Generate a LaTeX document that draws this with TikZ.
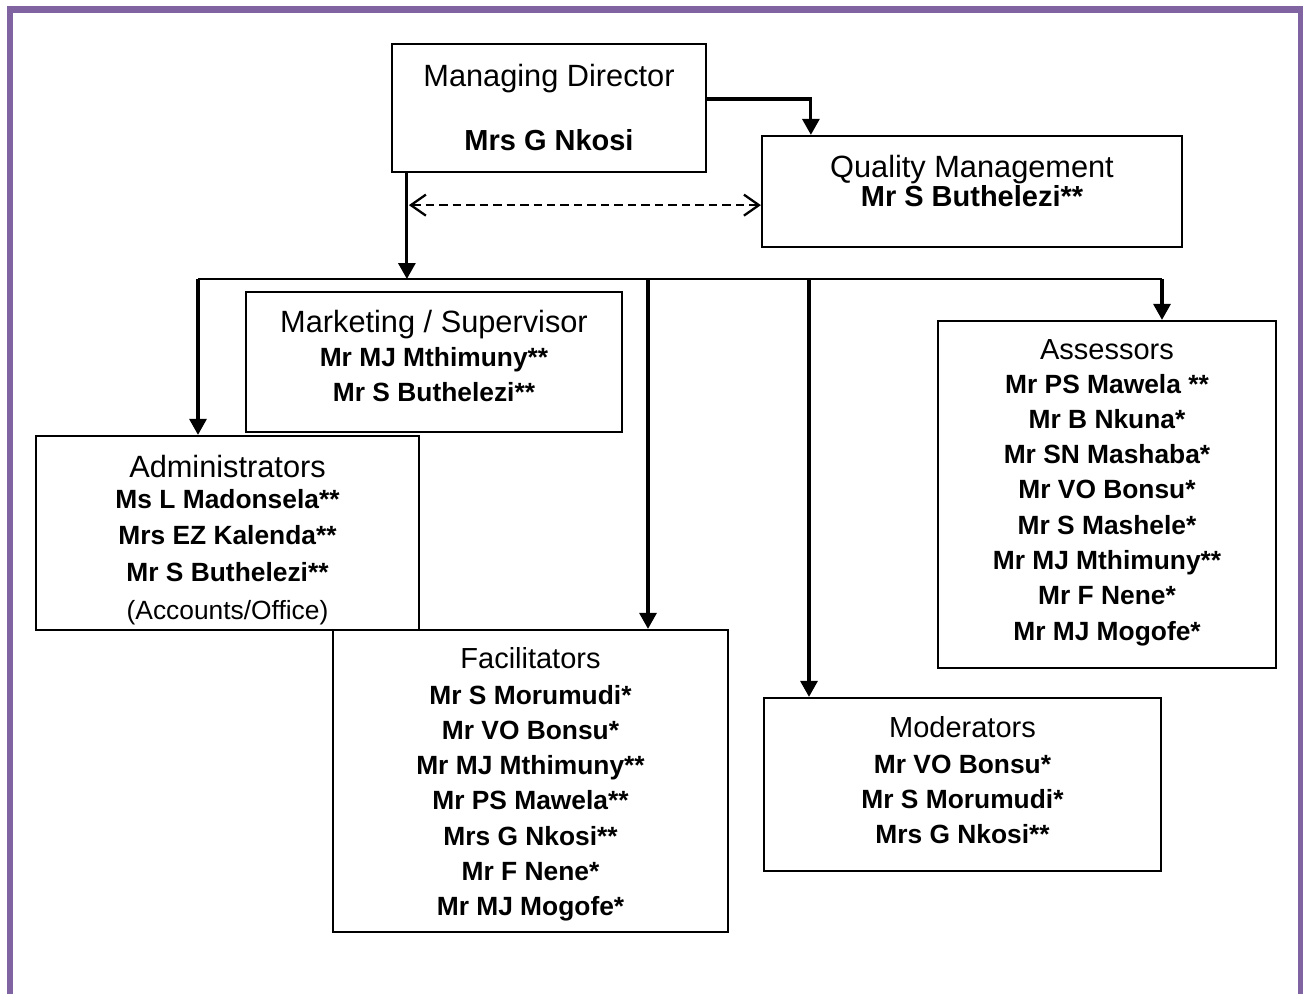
\documentclass[tikz,border=0pt]{standalone}
\usepackage{fontspec}
\setmainfont{Liberation Sans}
\usepackage{tikz}
\usetikzlibrary{arrows.meta,calc,positioning}
\definecolor{frameViolet}{RGB}{128,100,162}
\newcommand{\rowgap}{35.3}
\tikzset{
  >={Triangle[length=0.32cm,width=0.34cm]},
  box/.style={draw,line width=1.3pt,shape=rectangle,inner sep=0},
  head/.style={anchor=base,font=\fontsize{17.5}{21}\selectfont},
  subhead/.style={anchor=base,font=\fontsize{16.5}{20}\selectfont},
  who/.style={anchor=base,font=\fontsize{15}{18}\selectfont\bfseries},
  bigwho/.style={anchor=base,font=\fontsize{16.5}{19}\selectfont\bfseries},
  note/.style={anchor=base,font=\fontsize{15}{18}\selectfont},
  line/.style={draw,->,line width=1.8pt},
  bus/.style={draw,line width=1.4pt},
  link/.style={draw,dash pattern=on 0.17cm off 0.1cm,line width=1.3pt,
    {Straight Barb[length=0.3cm,width=0.42cm]}-{Straight Barb[length=0.3cm,width=0.42cm]}},
}
\begin{document}
\begin{tikzpicture}[x=0.02cm,y=-0.02cm]
  \useasboundingbox (0,0) rectangle (1303,994);
  \draw[frameViolet,line width=0.14cm] (10,994) -- (10,9) -- (1301,9) -- (1301,994);

  % boxes
  \node (md) [box,minimum width=6.28cm,minimum height=2.56cm] at (549,108) {};
  \node (qm) [box,minimum width=8.40cm,minimum height=2.22cm] at (972,191.5) {};
  \node (mkt) [box,minimum width=7.52cm,minimum height=2.80cm] at (434,362) {};
  \node (adm) [box,minimum width=7.66cm,minimum height=3.88cm] at (227.5,533) {};
  \node (fac) [box,minimum width=7.90cm,minimum height=6.04cm] at (530.5,781) {};
  \node (mod) [box,minimum width=7.94cm,minimum height=3.46cm] at (962.5,784.5) {};
  \node (ass) [box,minimum width=6.76cm,minimum height=6.94cm] at (1107,494.5) {};

  % texts
  \node (mdHead) [head] at (549,86) {Managing Director};
  \node (mdWho) [bigwho] at (549,150) {Mrs G Nkosi};
  \node (qmHead) [head] at (972,177) {Quality Management};
  \node (qmWho) [bigwho] at (972,206) {Mr S Buthelezi**};
  \node (mktHead) [head] at (434,332) {Marketing / Supervisor};
  \foreach \nm [count=\i] in {Mr MJ Mthimuny**,Mr S Buthelezi**}
    \node (mkt\i) [who] at (434,{366+\rowgap*(\i-1)}) {\nm};
  \node (admHead) [head] at (227.5,477) {Administrators};
  \foreach \nm [count=\i] in {Ms L Madonsela**,Mrs EZ Kalenda**,Mr S Buthelezi**}
    \node (adm\i) [who] at (227.5,{508+36.5*(\i-1)}) {\nm};
  \node (admNote) [note] at (227.5,619) {(Accounts/Office)};
  \node (facHead) [subhead] at (530.5,668) {Facilitators};
  \foreach \nm [count=\i] in {Mr S Morumudi*,Mr VO Bonsu*,Mr MJ Mthimuny**,Mr PS Mawela**,Mrs G Nkosi**,Mr F Nene*,Mr MJ Mogofe*}
    \node (fac\i) [who] at (530.5,{704+\rowgap*(\i-1)}) {\nm};
  \node (modHead) [subhead] at (962.5,737) {Moderators};
  \foreach \nm [count=\i] in {Mr VO Bonsu*,Mr S Morumudi*,Mrs G Nkosi**}
    \node (mod\i) [who] at (962.5,{773+\rowgap*(\i-1)}) {\nm};
  \node (assHead) [subhead] at (1107,359) {Assessors};
  \foreach \nm [count=\i] in {Mr PS Mawela **,Mr B Nkuna*,Mr SN Mashaba*,Mr VO Bonsu*,Mr S Mashele*,Mr MJ Mthimuny**,Mr F Nene*,Mr MJ Mogofe*}
    \node (ass\i) [who] at (1107,{393+\rowgap*(\i-1)}) {\nm};

  % connectors
  \coordinate (busL) at (198,279);
  \coordinate (busF) at (648,279);
  \coordinate (busM) at (809,279);
  \coordinate (busR) at (1162,279);
  \coordinate (mdFoot) at ($(md.south west)+(16,0)$);
  \coordinate (dashL) at ($(md.south west)+(18,32)$);
  \path [line] ([yshift=0.18cm]md.east) -| ([xshift=1cm]qm.north west);
  \path [line] (mdFoot) -- (mdFoot |- busL);
  \path [link] (dashL) -- (dashL -| qm.west);
  \path [bus] (busL) -- (busR);
  \path [line] (busL) -- (busL |- adm.north);
  \path [line] (busF) -- (busF |- fac.north);
  \path [line] (busM) -- (busM |- mod.north);
  \path [line] (busR) -- (busR |- ass.north);
\end{tikzpicture}
\end{document}
